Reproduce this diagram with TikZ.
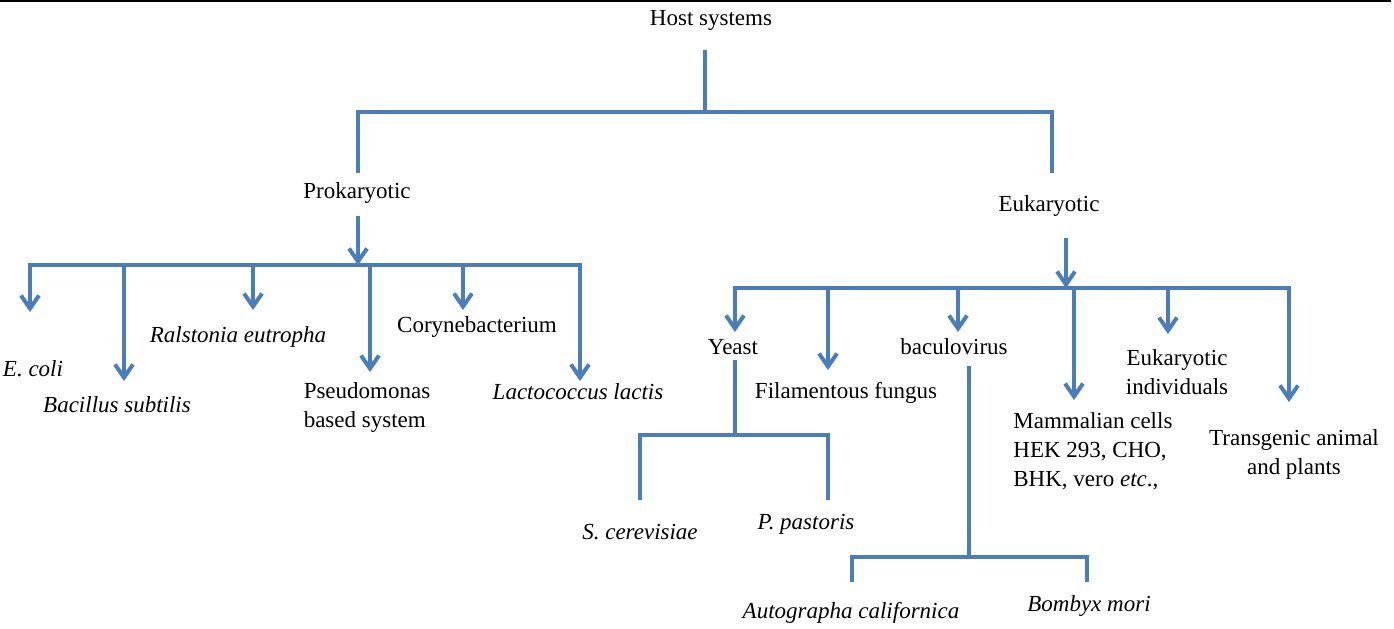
\documentclass[tikz,border=0pt]{standalone}
\usepackage{fontspec}
\setmainfont{Liberation Serif}
\usetikzlibrary{arrows.meta}
\definecolor{linkblue}{RGB}{74,126,187}

\begin{document}
\begin{tikzpicture}[x=0.5pt, y=-0.5pt,
        hostname/.style={inner sep=0pt, font=\fontsize{11.5}{14.5}\selectfont, align=center},
        species/.style={hostname, font=\fontsize{11.5}{14.5}\selectfont\itshape},
        link/.style={draw=linkblue, line width=2pt, line cap=rect},
        arrow/.style={link, -{Straight Barb[length=6.5pt, width=9pt]}}
    ]
    \useasboundingbox (0,0) rectangle (1394,628);
    \draw [line width=1pt] (0,1) -- (1391,1);

    % top levels
    \node [hostname] (host) at (711,20) {Host systems};
    \node [hostname] (prok) at (357,193) {Prokaryotic};
    \node [hostname] (euk) at (1049,206) {Eukaryotic};

    \coordinate (host-out) at (705,52);
    \coordinate (split) at (705,112);
    \coordinate (prok-in) at (358,171);
    \coordinate (euk-in) at (1052,171);
    \draw [link] (host-out) -- (split);
    \draw [link] (prok-in) |- (split) -| (euk-in);

    % prokaryotic hosts
    \node [species] (ecoli) at (33,369) {E. coli};
    \node [species] (bacillus) at (117,405) {Bacillus subtilis};
    \node [species] (ralstonia) at (238,337) {Ralstonia eutropha};
    \node [hostname, align=left] (pseudo) at (367,407) {Pseudomonas\\based system};
    \node [hostname] (coryne) at (477,327) {Corynebacterium};
    \node [species] (lacto) at (578,392) {Lactococcus lactis};

    \coordinate (prok-out) at (358,218);
    \coordinate (pbar) at (358,265);
    \coordinate (ecoli-in) at (30,312);
    \coordinate (bacillus-in) at (124,381);
    \coordinate (ralstonia-in) at (253,310);
    \coordinate (pseudo-in) at (370,372);
    \coordinate (coryne-in) at (463,310);
    \coordinate (lacto-in) at (580,381);
    \draw [arrow] (prok-out) -- (pbar);
    \draw [link] (ecoli-in |- pbar) -- (lacto-in |- pbar);
    \foreach \n in {ecoli, bacillus, ralstonia, pseudo, coryne, lacto}
        \draw [arrow] (\n-in |- pbar) -- (\n-in);

    % eukaryotic hosts
    \node [hostname] (yeast) at (733,347) {Yeast};
    \node [hostname] (fungus) at (846,393) {Filamentous fungus};
    \node [hostname] (baculo) at (954,347) {baculovirus};
    \node [hostname, align=left, anchor=west] (mammal) at (1013,451) {Mammalian cells\\HEK 293, CHO,\\BHK, vero \textit{etc}.,};
    \node [hostname] (indiv) at (1177,372) {Eukaryotic\\individuals};
    \node [hostname] (transg) at (1294,454) {Transgenic animal\\and plants};

    \coordinate (euk-out) at (1066,240);
    \coordinate (ebar) at (1066,288);
    \coordinate (yeast-in) at (735,332);
    \coordinate (fungus-in) at (828,370);
    \coordinate (baculo-in) at (958,332);
    \coordinate (mammal-in) at (1074,400);
    \coordinate (indiv-in) at (1168,334);
    \coordinate (transg-in) at (1289,402);
    \draw [arrow] (euk-out) -- (ebar);
    \draw [link] (yeast-in |- ebar) -- (transg-in |- ebar);
    \foreach \n in {yeast, fungus, baculo, mammal, indiv, transg}
        \draw [arrow] (\n-in |- ebar) -- (\n-in);

    % yeast strains
    \node [species] (scer) at (640,532) {S. cerevisiae};
    \node [species] (ppas) at (806,524) {P. pastoris};
    \coordinate (yeast-out) at (735,362);
    \coordinate (ysplit) at (735,435);
    \coordinate (scer-in) at (640,498);
    \coordinate (ppas-in) at (828,498);
    \draw [link] (yeast-out) -- (ysplit);
    \draw [link] (scer-in) |- (ysplit) -| (ppas-in);

    % baculovirus hosts
    \node [species] (acal) at (851,613) {Autographa californica};
    \node [species] (bmori) at (1089,606) {Bombyx mori};
    \coordinate (baculo-out) at (969,368);
    \coordinate (bsplit) at (969,557);
    \coordinate (acal-in) at (852,580);
    \coordinate (bmori-in) at (1087,580);
    \draw [link] (baculo-out) -- (bsplit);
    \draw [link] (acal-in) |- (bsplit) -| (bmori-in);
\end{tikzpicture}
\end{document}
